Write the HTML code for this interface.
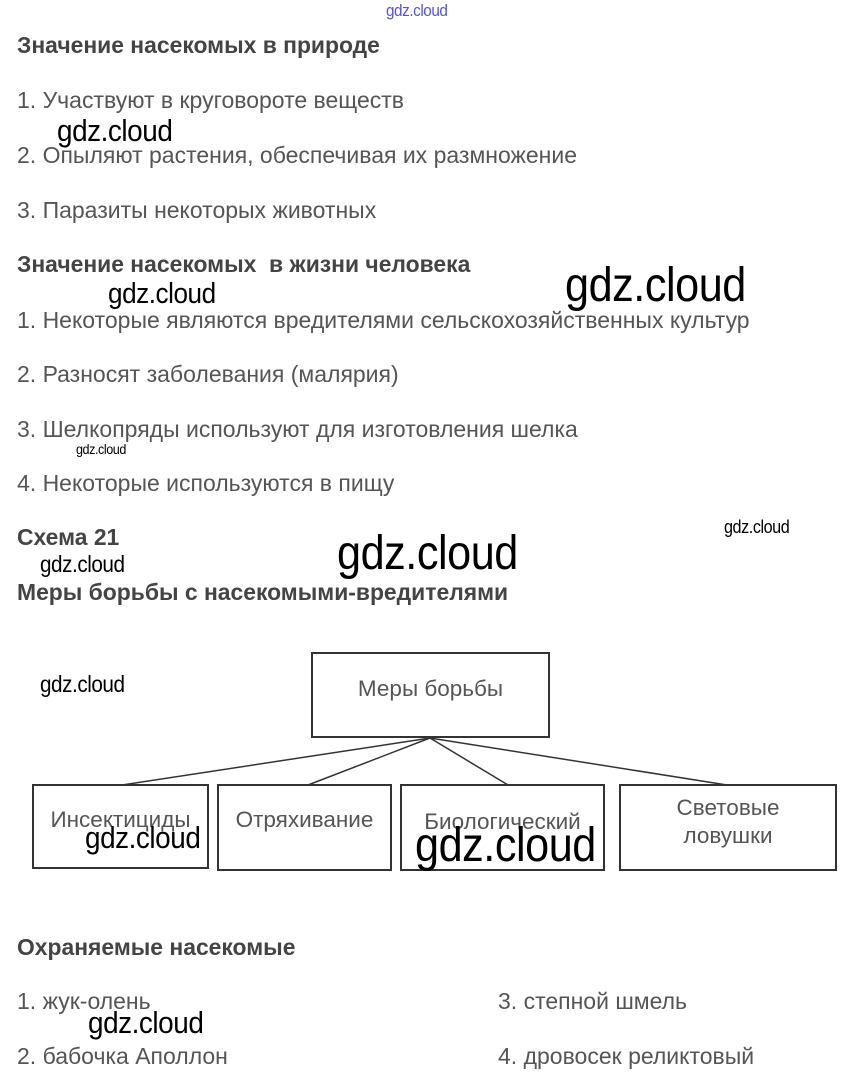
<!DOCTYPE html>
<html><head><meta charset="utf-8"><style>
body{margin:0;width:849px;height:1092px;background:#fff;position:relative;overflow:hidden;font-family:"Liberation Sans",sans-serif}
.t{position:absolute;left:17px;font-size:23px;line-height:1;color:#555;white-space:nowrap}
.h{font-weight:bold;font-size:23px;color:#444;transform:scaleX(0.995);transform-origin:0 0}
.w{position:absolute;color:#000;white-space:nowrap;line-height:1;font-family:"Liberation Sans",sans-serif;transform:scaleX(0.9);transform-origin:0 0;letter-spacing:-0.5px}
.b{position:absolute;border:2px solid #333;box-sizing:border-box;display:flex;align-items:center;justify-content:center;text-align:center;color:#555;font-size:22.5px;line-height:28px}
</style></head><body>
<div class="w" style="left:386px;top:2px;font-size:17px;color:#55c">gdz.cloud</div>
<div class="t h" style="top:34px">Значение насекомых в природе</div>
<div class="t" style="top:89px">1. Участвуют в круговороте веществ</div>
<div class="t" style="top:144px">2. Опыляют растения, обеспечивая их размножение</div>
<div class="t" style="top:199px">3. Паразиты некоторых животных</div>
<div class="t h" style="top:253px">Значение насекомых &nbsp;в жизни человека</div>
<div class="t" style="top:309px">1. Некоторые являются вредителями сельскохозяйственных культур</div>
<div class="t" style="top:363px">2. Разносят заболевания (малярия)</div>
<div class="t" style="top:418px">3. Шелкопряды используют для изготовления шелка</div>
<div class="t" style="top:472px">4. Некоторые используются в пищу</div>
<div class="t h" style="top:526px">Схема 21</div>
<div class="t h" style="top:581px">Меры борьбы с насекомыми-вредителями</div>
<div class="t h" style="top:936px">Охраняемые насекомые</div>
<div class="t" style="top:990px">1. жук-олень</div>
<div class="t" style="top:1045px">2. бабочка Аполлон</div>
<div class="t" style="top:990px;left:498px">3. степной шмель</div>
<div class="t" style="top:1045px;left:498px">4. дровосек реликтовый</div>

<svg style="position:absolute;left:0;top:0" width="849" height="1092">
<g stroke="#333" stroke-width="1.5">
<line x1="430" y1="738" x2="122" y2="785"/>
<line x1="430" y1="738" x2="308" y2="785"/>
<line x1="430" y1="738" x2="508" y2="785"/>
<line x1="430" y1="738" x2="727" y2="785"/>
</g></svg>
<div class="b" style="left:311px;top:652px;width:239px;height:86px;align-items:flex-start;padding-top:21px">Меры борьбы</div>
<div class="b" style="left:32px;top:784px;width:177px;height:85px;padding-bottom:14px">Инсектициды</div>
<div class="b" style="left:217px;top:784px;width:175px;height:87px;padding-bottom:16px">Отряхивание</div>
<div class="b" style="left:400px;top:784px;width:205px;height:87px;padding-bottom:12px">Биологический</div>
<div class="b" style="left:619px;top:784px;width:218px;height:87px;padding-bottom:12px">Световые<br>ловушки</div>

<div class="w" style="left:57px;top:115px;font-size:31px">gdz.cloud</div>
<div class="w" style="left:108px;top:280px;font-size:29px">gdz.cloud</div>
<div class="w" style="left:565px;top:262px;font-size:48px">gdz.cloud</div>
<div class="w" style="left:76px;top:442px;font-size:14px">gdz.cloud</div>
<div class="w" style="left:724px;top:518px;font-size:18px">gdz.cloud</div>
<div class="w" style="left:40px;top:553px;font-size:23px">gdz.cloud</div>
<div class="w" style="left:337px;top:530px;font-size:48px">gdz.cloud</div>
<div class="w" style="left:40px;top:673px;font-size:23px">gdz.cloud</div>
<div class="w" style="left:85px;top:822px;font-size:31px">gdz.cloud</div>
<div class="w" style="left:415px;top:822px;font-size:48px">gdz.cloud</div>
<div class="w" style="left:88px;top:1007px;font-size:31px">gdz.cloud</div>
</body></html>
